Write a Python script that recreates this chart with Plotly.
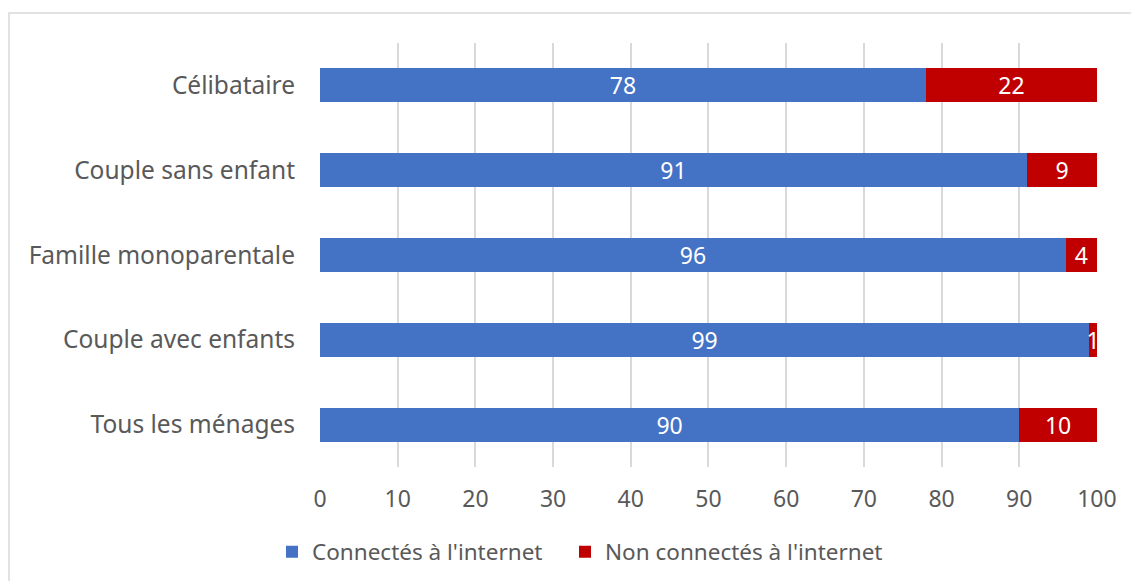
import plotly.graph_objects as go

categories = ["Célibataire", "Couple sans enfant", "Famille monoparentale",
              "Couple avec enfants", "Tous les ménages"]
connectes = [78, 91, 96, 99, 90]
non_connectes = [22, 9, 4, 1, 10]
series_names = ["Connectés à l'internet", "Non connectés à l'internet"]
x_ticks = [0, 10, 20, 30, 40, 50, 60, 70, 80, 90, 100]

FONT = "Noto Sans"
GRAY = "#595959"
SIZE = 24.5

fig = go.Figure()
fig.add_trace(go.Bar(
    y=categories, x=connectes, orientation="h",
    name=series_names[0] + "\u00a0\u00a0\u00a0",
    marker=dict(color="#4472C4", line=dict(width=0)),
    text=[str(v) for v in connectes], textposition="inside",
    insidetextanchor="middle", textangle=0,
    textfont=dict(color="white", size=23, family=FONT),
))
fig.add_trace(go.Bar(
    y=categories, x=non_connectes, orientation="h", name=series_names[1],
    marker=dict(color="#C00000", line=dict(width=0)),
    text=[str(v) for v in non_connectes], textposition="inside",
    insidetextanchor="middle", textangle=0,
    textfont=dict(color="white", size=23, family=FONT),
))

fig.update_layout(
    width=1131, height=581,
    margin=dict(l=320, r=34, t=43, b=114, autoexpand=False),
    barmode="stack", bargap=0.6,
    plot_bgcolor="white", paper_bgcolor="white",
    font=dict(family=FONT, size=SIZE, color=GRAY),
    uniformtext=dict(minsize=23, mode="show"),
    showlegend=True,
    legend=dict(orientation="h", xref="container", yref="container",
                x=272 / 1131, xanchor="left", y=1 - 552 / 581, yanchor="middle",
                font=dict(size=22.5, color=GRAY, family=FONT),
                traceorder="normal", itemwidth=30),
    xaxis=dict(range=[0, 100.01], tickvals=x_ticks, showgrid=True,
               gridcolor="#D9D9D9", gridwidth=1.5, zeroline=False,
               showline=False, ticks="", ticklabelstandoff=16, automargin=False,
               tickfont=dict(size=23, color=GRAY, family=FONT)),
    yaxis=dict(categoryorder="array", categoryarray=categories,
               autorange="reversed", showgrid=False, zeroline=False,
               showline=False, ticks="", ticklabelstandoff=24, automargin=False,
               tickfont=dict(size=SIZE, color=GRAY, family=FONT)),
    shapes=[dict(type="rect", xref="paper", yref="paper",
                 x0=(9 - 320) / 777, x1=(1140 - 320) / 777,
                 y0=(467 - 590) / 424, y1=(467 - 13) / 424,
                 line=dict(color="#D9D9D9", width=1.5), fillcolor="rgba(0,0,0,0)",
                 layer="below")],
)

fig.write_html("out.html")
